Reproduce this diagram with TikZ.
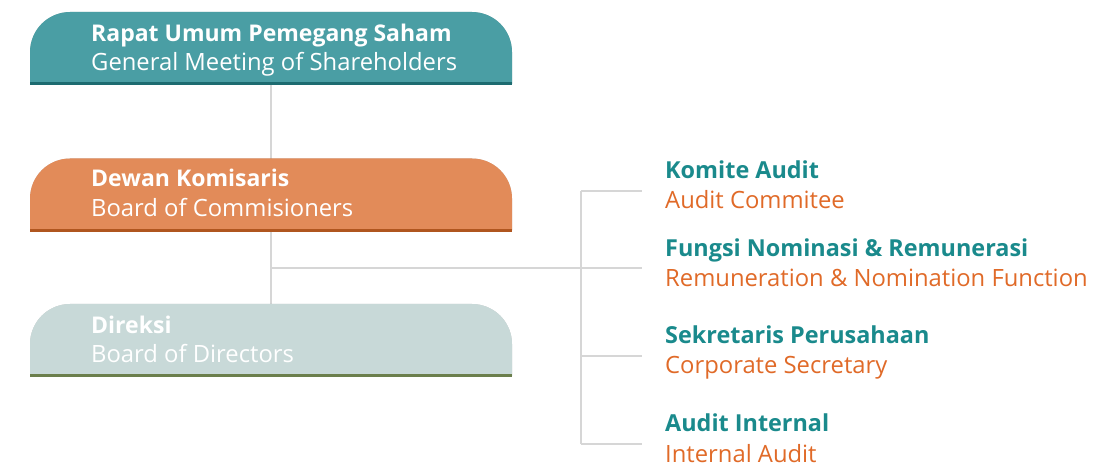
\documentclass[tikz,border=0pt]{standalone}
\usepackage{fontspec}
\setmainfont{Open Sans}
\usetikzlibrary{calc}
\definecolor{tealbox}{HTML}{4A9EA4}
\definecolor{tealline}{HTML}{1D6B70}
\definecolor{orangebox}{HTML}{E28B59}
\definecolor{orangeline}{HTML}{B0561F}
\definecolor{greybox}{HTML}{C8D9D8}
\definecolor{greenline}{HTML}{6B7F4C}
\definecolor{tealtext}{HTML}{1A8A8C}
\definecolor{orangetext}{HTML}{E06A28}
\definecolor{connc}{HTML}{D6D6D6}
\newcommand{\tabshape}[1]{(#1.south west) -- ([yshift=-40]#1.north west) arc[start angle=180,end angle=90,radius=40] -- ([xshift=-40]#1.north east) arc[start angle=90,end angle=0,radius=40] -- (#1.south east) -- cycle}
\newcommand{\tabshadow}[1]{%
  \foreach \s in {1,2,3,4,5,6}{\fill[black,opacity=0.035,xshift=\s*0.6,yshift=-\s*0.8] \tabshape{#1};}}
\tikzset{
  tab/.style={minimum width=482, minimum height=72, inner sep=0, outer sep=0},
  lefttxt/.style={anchor=base west, inner sep=0, text=white, font=\fontsize{23.8}{28}\selectfont},
  lefthead/.style={lefttxt, font=\fontsize{23}{28}\selectfont\bfseries},
  righttxt/.style={anchor=base west, inner sep=0, text=orangetext, font=\fontsize{23.8}{28}\selectfont},
  righthead/.style={anchor=base west, inner sep=0, text=tealtext, font=\fontsize{23.4}{28}\selectfont\bfseries},
  conn/.style={draw=connc, line width=1.3}
}
\begin{document}
\begin{tikzpicture}[x=1pt,y=1pt]
\useasboundingbox (0,0) rectangle (1116,463);
% box placeholders
\node[tab] (rups) at (271,415) {};
\node[tab] (boc) at (271,268.5) {};
\node[tab] (bod) at (271,123) {};
% right bus
\coordinate (junc) at (boc.center |- 0,195);
\coordinate (bus) at (581,195);
% right labels
\node[righthead] (ka1) at (665,284) {Komite Audit};
\node[righttxt] (ka2) at (665,254) {Audit Commitee};
\node[righthead] (fn1) at (665,206) {Fungsi Nominasi \& Remunerasi};
\node[righttxt] (fn2) at (665,176) {Remuneration \& Nomination Function};
\node[righthead] (sp1) at (665,119) {Sekretaris Perusahaan};
\node[righttxt] (sp2) at (665,89) {Corporate Secretary};
\node[righthead] (ai1) at (665,31) {Audit Internal};
\node[righttxt] (ai2) at (665,1) {Internal Audit};
\coordinate (t1) at (642,272);
\coordinate (t2) at (642,195);
\coordinate (t3) at (642,107);
\coordinate (t4) at (642,19);
% connectors
\draw[conn] (rups.south) -- (bod.north);
\draw[conn] (junc) -- (t2);
\draw[conn] (bus |- t1) -- (bus |- t4);
\draw[conn] (bus |- t1) -- (t1);
\draw[conn] (bus |- t3) -- (t3);
\draw[conn] (bus |- t4) -- (t4);
% boxes
\tabshadow{rups}
\fill[tealbox] \tabshape{rups};
\draw[tealline, line width=3] (rups.south west) -- (rups.south east);
\tabshadow{boc}
\fill[orangebox] \tabshape{boc};
\draw[orangeline, line width=3] (boc.south west) -- (boc.south east);
\tabshadow{bod}
\fill[greybox] \tabshape{bod};
\draw[greenline, line width=3] (bod.south west) -- (bod.south east);
% box texts
\node[lefthead] (rups1) at (91,421) {Rapat Umum Pemegang Saham};
\node[lefttxt] (rups2) at (91,392.5) {General Meeting of Shareholders};
\node[lefthead] (boc1) at (91,276) {Dewan Komisaris};
\node[lefttxt] (boc2) at (91,246) {Board of Commisioners};
\node[lefthead] (bod1) at (91,129) {Direksi};
\node[lefttxt] (bod2) at (91,100) {Board of Directors};
\end{tikzpicture}
\end{document}
